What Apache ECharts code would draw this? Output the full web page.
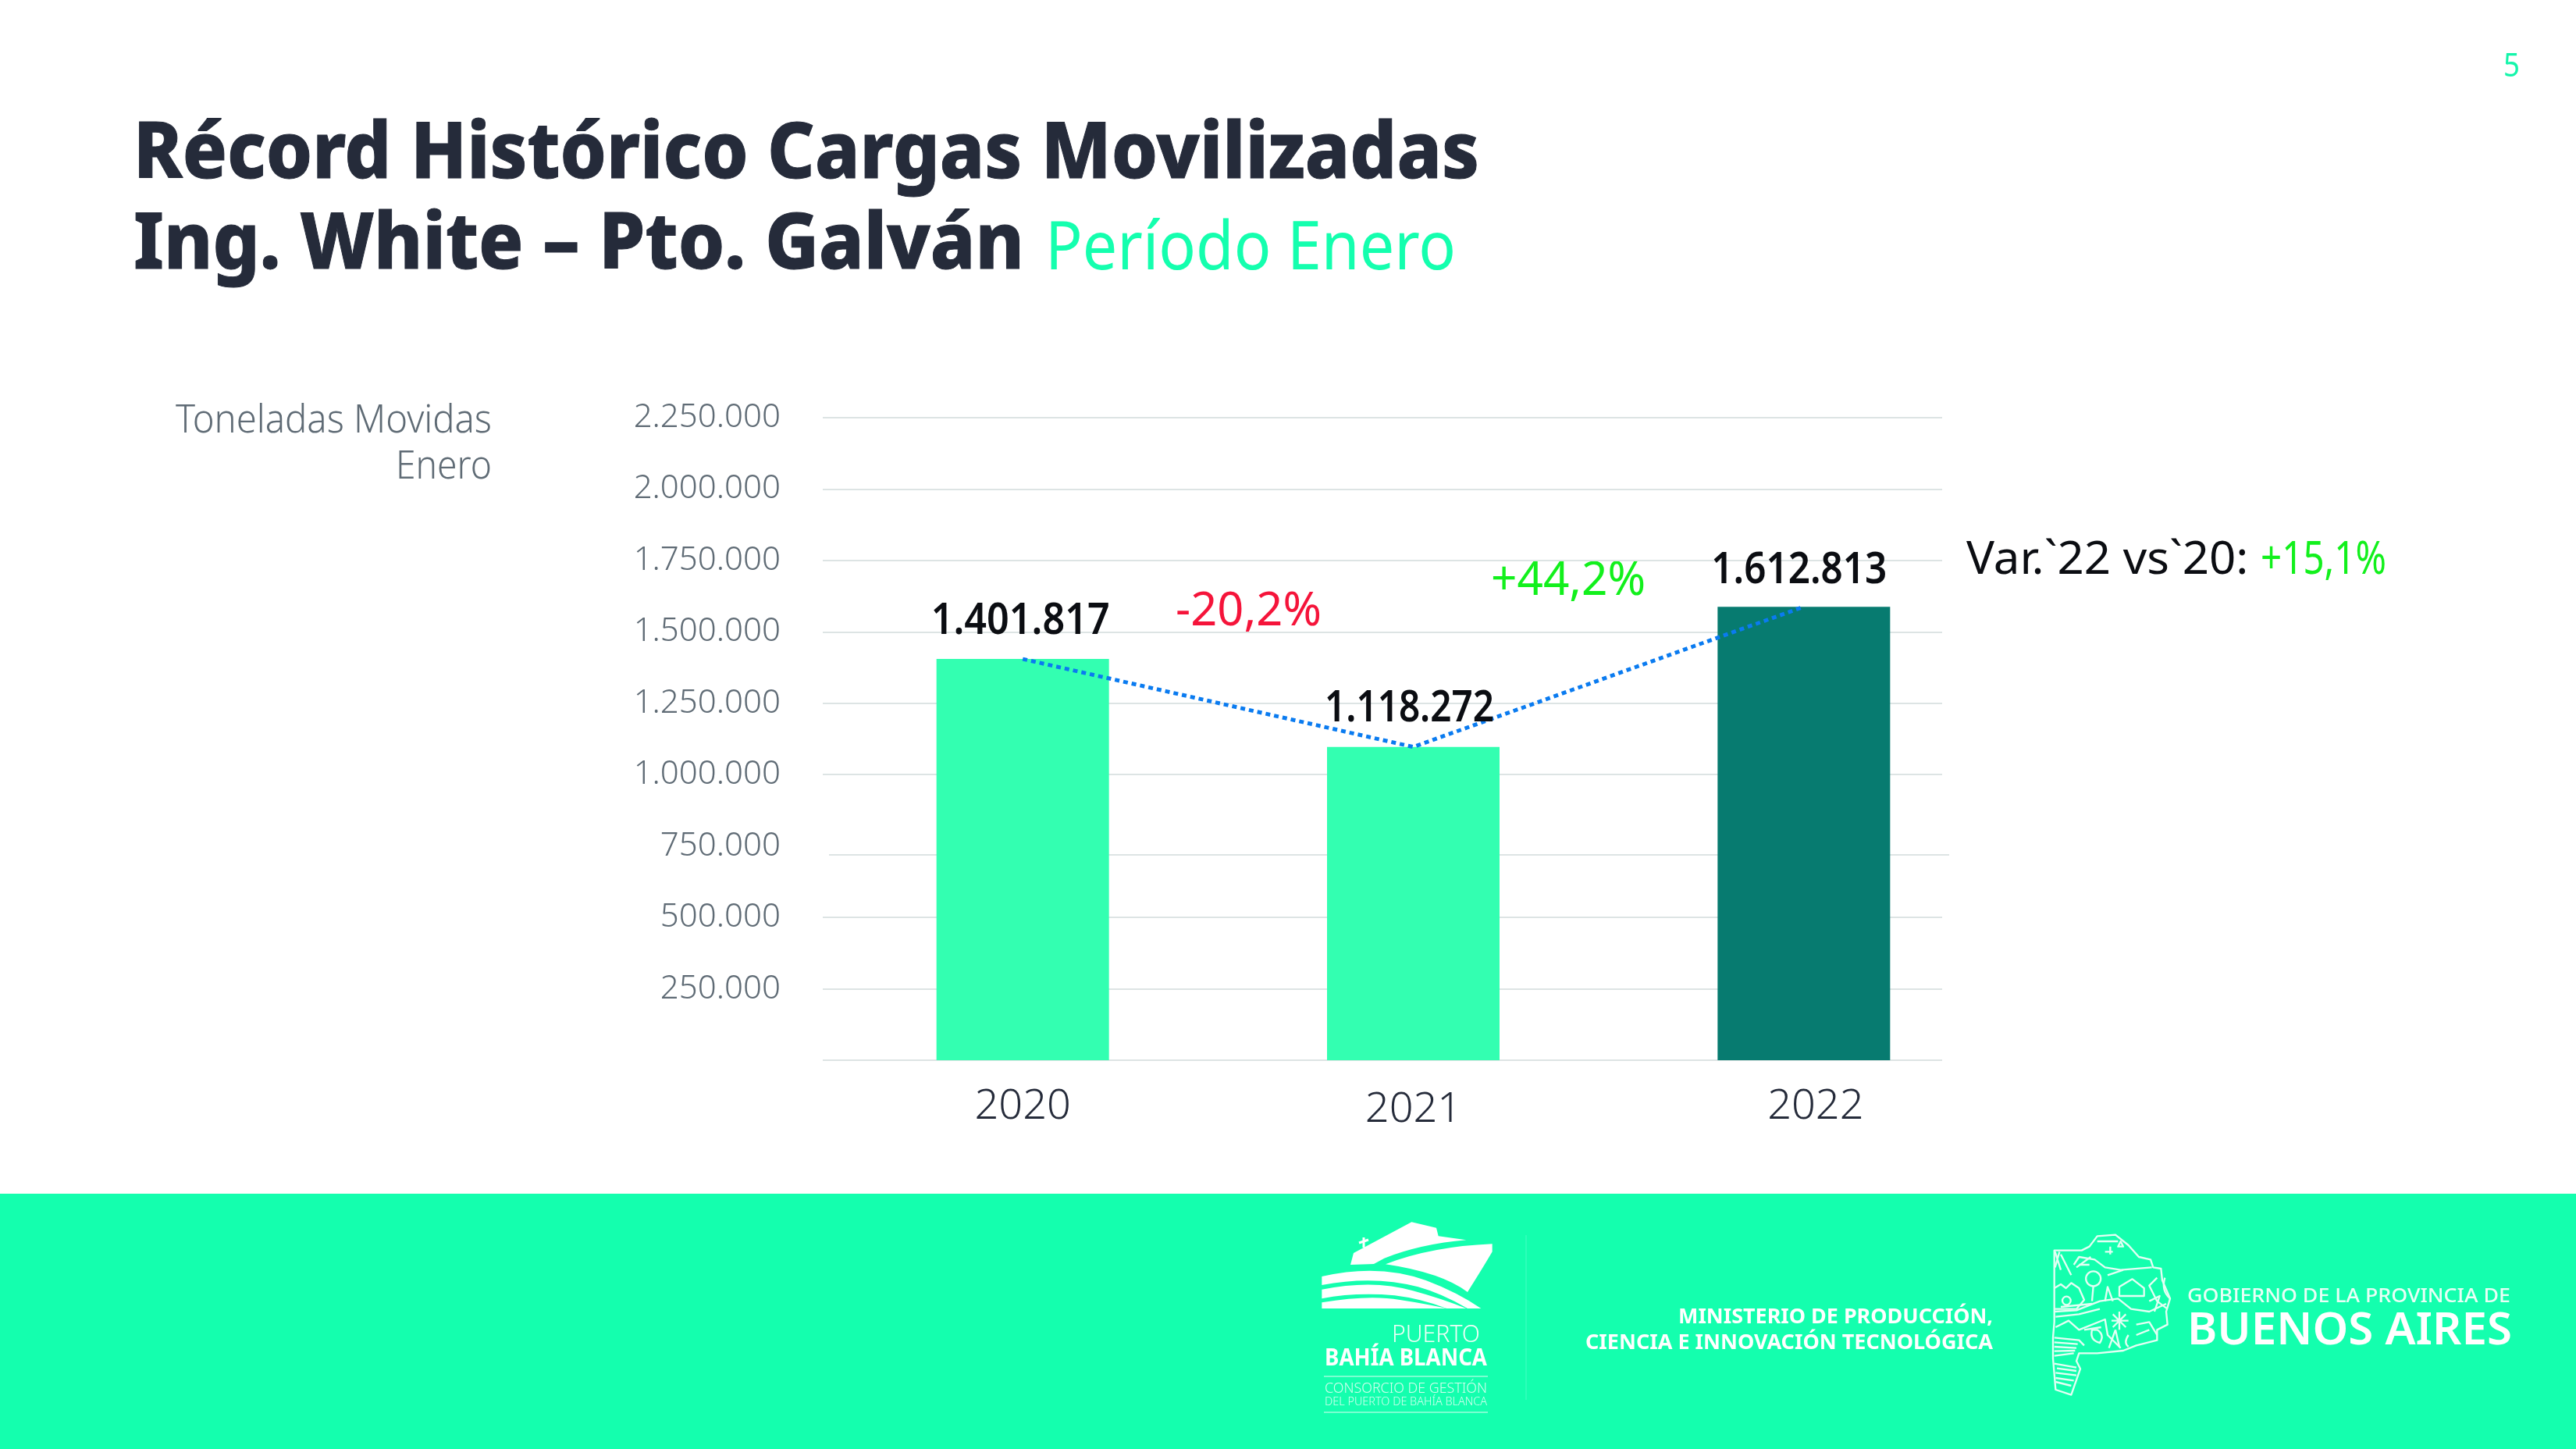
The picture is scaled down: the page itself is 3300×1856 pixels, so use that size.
<!DOCTYPE html>
<html><head><meta charset="utf-8">
<style>html,body{margin:0;padding:0;background:#fff}#c{width:3300px;height:1856px}</style>
<script src="https://cdn.jsdelivr.net/npm/echarts@6/dist/echarts.min.js"></script>
</head><body><div id="c"></div>
<script>
const categories = ['2020', '2021', '2022'];
// Heights as drawn in the picture (the printed labels differ slightly from the drawn bars).
const barHeights = [1405000, 1097000, 1588000];
const printedLabels = ['1.401.817', '1.118.272', '1.612.813'];
const yTickLabels = {250000:'250.000',500000:'500.000',750000:'750.000',1000000:'1.000.000',1250000:'1.250.000',1500000:'1.500.000',1750000:'1.750.000',2000000:'2.000.000',2250000:'2.250.000'};
const varDown = '-20,2%';
const varUp = '+44,2%';
const varTotalLabel = 'Var.`22 vs`20: ';
const varTotal = '+15,1%';

const NAVY='#252b3a', MINT='#14ffae', GREY='#5f6b75', GREEN='#12f01c', RED='#f5143a', BLACK='#0b0d12';
const barColors=['#33ffb1','#33ffb1','#077b70'];
const SANS='"Noto Sans"';
const mc=document.createElement('canvas').getContext('2d');
function txt(text,x,yc,w,font,fill,extra){
  mc.font=font;
  const s=w/mc.measureText(text).width;
  const el={type:'text',x:x,y:yc,scaleX:s,silent:true,style:Object.assign({text:text,font:font,fill:fill,textAlign:'left',textVerticalAlign:'middle'},extra||{})};
  return el;
}
let pathId=0;
function path(d,ox,oy,k,style){
  const name='logoPath'+(pathId++);
  echarts.graphic.registerShape(name,echarts.graphic.extendPath(d));
  return {type:name,x:ox,y:oy,scaleX:k,scaleY:k,silent:true,style:style};
}
const W={fill:'#fff'};
const LOGO={stroke:'#e4fff4',lineWidth:7,fill:null,lineJoin:'round'};
const shipPaths=[
 'M210 240 L222 195 L445 76 L540 98 L548 130 L655 145 Q480 160 340 215 L300 237 Z',
 'M345 238 Q520 170 755 160 L755 190 Q720 250 660 345 Q560 270 345 238 Z',
 'M100 285 Q320 235 500 300 Q620 345 712 408 L660 408 Q560 350 470 325 Q300 280 100 318 Z',
 'M100 335 Q300 295 450 340 Q560 370 655 408 L580 408 Q480 370 380 358 Q230 345 100 370 Z',
 'M100 385 Q280 355 400 375 Q500 390 580 408 L100 408 Z'
];
const mapPaths=[
 'M35 95 L140 95 L170 80 L200 40 L270 35 L320 75 L360 120 L405 130 L415 160 L445 165 L450 210 L480 280 L465 330 L470 380 L430 400 L430 440 L350 460 L300 480 L200 490 L130 490 L120 520 L135 550 L100 650 L40 630 L30 510 L30 430 L35 370 Z',
 'M35 240 L60 225 L80 240 L100 220 L130 240 L150 285 L120 320 L35 320',
 'M110 150 L130 120 L190 130 L230 160 L290 170 L410 160',
 'M35 330 L120 325 L210 290 L280 280 L330 320 L400 330 L465 300',
 'M40 350 L130 340 L210 320 M60 312 L180 300',
 'M40 390 L90 365 L130 400 L230 360 L240 420 L290 470',
 'M35 430 L130 440 L150 460 M35 448 L125 455 M35 465 L120 470 M35 482 L115 480 M35 500 L110 490 M35 530 L120 545 M45 548 L120 558 M40 565 L120 575 M40 585 L110 595 M40 600 L100 615',
 'M230 290 L240 235 L260 290 M285 270 L285 235 L335 205 L380 240 L380 270 Z',
 'M285 330 L285 400 M255 365 L320 365 M260 340 L310 390 M310 340 L260 390',
 'M270 400 L245 470 M270 400 L285 465 M320 420 Q300 450 320 465 M350 380 L400 370 L430 420',
 'M175 120 L120 160 M60 110 L100 190 M430 200 L400 230 L430 290 L470 320 M460 200 Q445 250 480 280',
 'M200 60 L280 60 M230 100 L260 100 M180 400 Q170 440 210 450 Q230 420 200 400 Z',
 'M185 175 A28 28 0 1 0 185 232 A28 28 0 1 0 185 175 M185 232 L180 290',
 'M82 272 A16 16 0 1 0 82 304 A16 16 0 1 0 82 272',
 'M38 100 L60 170 M55 100 L38 160 M130 150 L170 150 M250 80 L250 110 M290 60 L300 80 L280 80 Z',
 'M240 190 L300 170 M400 290 L440 270 L420 330 M150 400 L215 390 M350 420 L400 400'
];
const graphics=[
 {type:'rect',shape:{x:0,y:1529,width:3300,height:327},style:{fill:MINT},z:-1,silent:true},
 {type:'line',shape:{x1:1062,y1:1095,x2:2497,y2:1095},style:{stroke:'#dde4e4',lineWidth:2},z:-1,silent:true},
 txt('5',3207,86,21,'400 42px '+SANS,'#14f5aa'),
 txt('Récord Histórico Cargas Movilizadas',171,200,1724,'800 100px '+SANS,NAVY,{stroke:NAVY,lineWidth:1}),
 txt('Ing. White – Pto. Galván',171,316,1141,'800 100px '+SANS,NAVY,{stroke:NAVY,lineWidth:1}),
 txt('Período Enero',1339,320,526,'400 86px '+SANS,MINT),
 txt('Toneladas Movidas',225,540,405,'300 50px '+SANS,GREY),
 txt('Enero',507,599,123,'300 50px '+SANS,GREY),
 txt(varDown,1506,784,187,'400 60px '+SANS,RED),
 txt(varUp,1910,745,198,'400 60px '+SANS,GREEN),
 txt(varTotalLabel,2519,718,377,'400 58px '+SANS,BLACK),
 txt(varTotal,2896,718,161,'400 58px '+SANS,GREEN),
 {type:'line',shape:{x1:1955,y1:1582,x2:1955,y2:1793},style:{stroke:'#2cffb9',lineWidth:2},silent:true},
 {type:'line',shape:{x1:1696,y1:1763,x2:1906,y2:1763},style:{stroke:'#9dffdc',lineWidth:1.5},silent:true},
 {type:'line',shape:{x1:1696,y1:1809,x2:1906,y2:1809},style:{stroke:'#9dffdc',lineWidth:1.5},silent:true},
 {type:'line',shape:{x1:1747,y1:1585,x2:1747,y2:1598},style:{stroke:'#fff',lineWidth:3},silent:true},
 {type:'line',shape:{x1:1741,y1:1592,x2:1753,y2:1588},style:{stroke:'#fff',lineWidth:3},silent:true},
 txt('PUERTO',1783,1710,113,'300 32px '+SANS,'#ecfff6'),
 txt('BAHÍA BLANCA',1697,1740,208,'700 30px '+SANS,'#fff'),
 txt('CONSORCIO DE GESTIÓN',1697,1779,208,'300 18px '+SANS,'#d2ffef'),
 txt('DEL PUERTO DE BAHÍA BLANCA',1697,1796,208,'300 15px '+SANS,'#d2ffef'),
 txt('MINISTERIO DE PRODUCCIÓN,',2150,1687,403,'700 27px '+SANS,'#fff'),
 txt('CIENCIA E INNOVACIÓN TECNOLÓGICA',2031,1720,522,'700 27px '+SANS,'#fff'),
 txt('GOBIERNO DE LA PROVINCIA DE',2802,1661,414,'500 26px '+SANS,'#e8fff6'),
 txt('BUENOS AIRES',2802,1705,416,'600 58px '+SANS,'#fff')
];
shipPaths.forEach(d=>graphics.push(path(d,1660,1540,1/3,W)));
mapPaths.forEach(d=>graphics.push(path(d,2620,1570,1/3,LOGO)));

// bar label placement relative to the bar tops (hand-placed boxes in the reference)
const labelDy=[-48,-49,-46], labelDx=[-3,-5,-6], labelW=[229,217,225];
const LABEL_FONT='600 56px '+SANS;
const chart=echarts.init(document.getElementById('c'),null,{renderer:'canvas'});
chart.setOption({
 animation:false,
 backgroundColor:'#fff',
 graphic:{elements:graphics},
 grid:[
  {left:1054,top:535,width:1434,height:823},
  {left:1060,top:535,width:1501,height:823}
 ],
 xAxis:[
  {gridIndex:0,type:'category',data:categories,show:false},
  {gridIndex:1,type:'category',
   data:categories.map((c,i)=>i===2?{value:c,textStyle:{padding:[0,0,0,30]}}:i===1?{value:c,textStyle:{padding:[4,0,0,0]}}:c),
   axisLine:{show:false},axisTick:{show:false},
   axisLabel:{color:NAVY,fontFamily:SANS,fontWeight:300,fontSize:54,margin:33}}
 ],
 yAxis:[
  {gridIndex:0,type:'value',min:0,max:2250000,interval:250000,
   axisLine:{show:false},axisTick:{show:false},
   splitLine:{show:true,lineStyle:{color:['#dde4e4','#dde4e4','#dde4e4','rgba(0,0,0,0)','#dde4e4','#dde4e4','#dde4e4','#dde4e4','#dde4e4','#dde4e4'],width:2}},
   axisLabel:{color:GREY,fontFamily:SANS,fontWeight:300,fontSize:42,margin:54,formatter:v=>yTickLabels[v]||''}},
  {gridIndex:1,type:'value',min:0,max:2250000,interval:250000,show:false,splitLine:{show:false}}
 ],
 series:[
  {type:'bar',xAxisIndex:1,yAxisIndex:1,barWidth:221,z:2,
   data:barHeights.map((v,i)=>({value:v,itemStyle:{color:barColors[i]}}))},
  {type:'line',xAxisIndex:1,yAxisIndex:1,data:barHeights,z:3,symbol:'none',
   lineStyle:{color:'#0a7bf0',width:5,type:[6,5]}},
  {type:'custom',xAxisIndex:1,yAxisIndex:1,z:4,silent:true,
   data:barHeights.map((v,i)=>[i,v]),
   renderItem:function(params,api){
     const i=params.dataIndex, p=api.coord([api.value(0),api.value(1)]);
     mc.font=LABEL_FONT;
     const w=labelW[i], s=w/mc.measureText(printedLabels[i]).width;
     return {type:'text',x:p[0]+labelDx[i]-w/2,y:p[1]+labelDy[i],scaleX:s,
       style:{text:printedLabels[i],font:LABEL_FONT,fill:BLACK,textAlign:'left',textVerticalAlign:'middle'}};
   }}
 ]
});
</script></body></html>
